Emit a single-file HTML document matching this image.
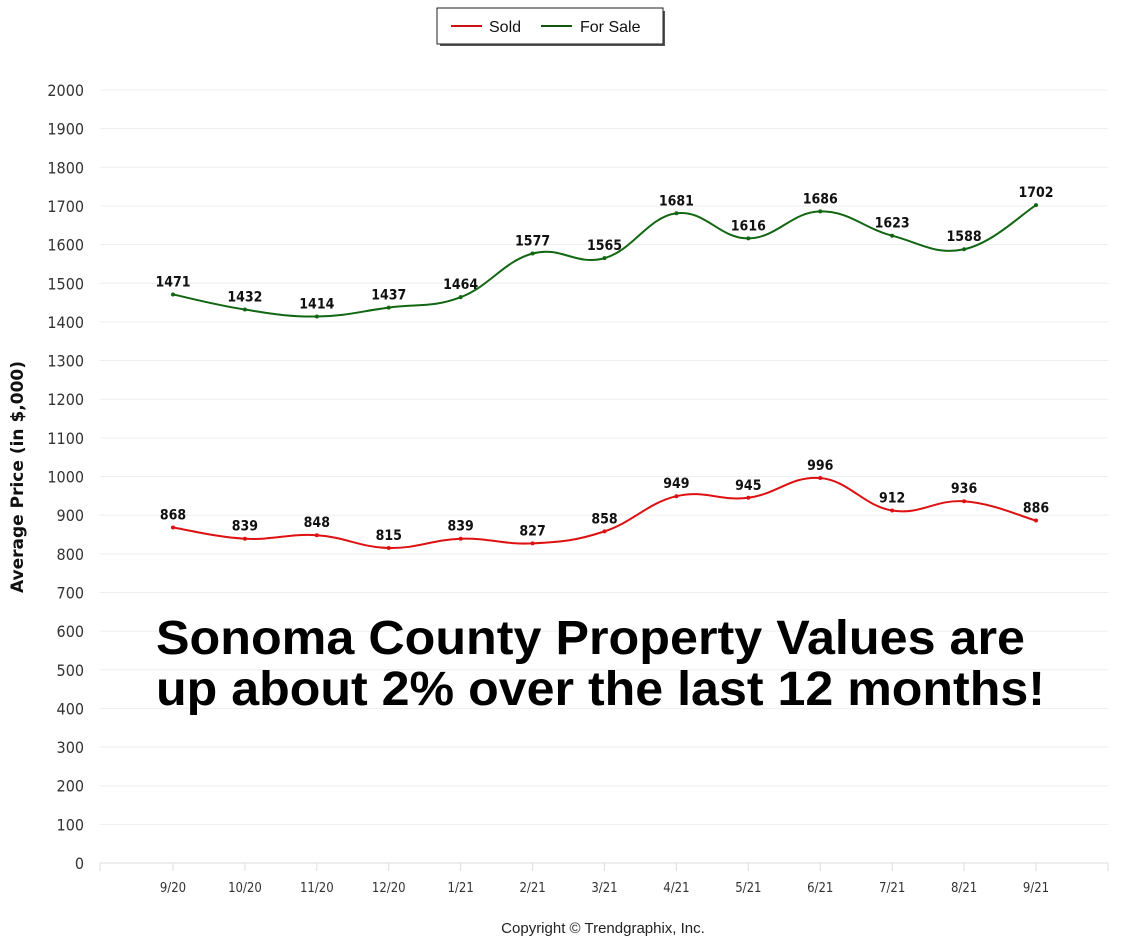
<!DOCTYPE html>
<html><head><meta charset="utf-8"><style>
body{margin:0;background:#fff;}
svg{display:block;font-family:"Liberation Sans",sans-serif;}
</style></head><body>
<svg id="c" width="1122" height="941">
<g>
<rect x="440" y="11" width="225" height="35" fill="#555"/>
<rect x="437" y="8" width="226" height="36" fill="#fff" stroke="#222" stroke-width="1"/>
<line x1="451" y1="26" x2="482" y2="26" stroke="#cc1111" stroke-width="2"/>
<text x="489" y="32" font-size="16" fill="#111">Sold</text>
<line x1="541" y1="26" x2="572" y2="26" stroke="#115511" stroke-width="2"/>
<text x="580" y="32" font-size="16" fill="#111">For Sale</text>
</g>
<text transform="translate(23,477) rotate(-90)" text-anchor="middle" font-size="17" font-weight="bold" font-family="DejaVu Sans, sans-serif" fill="#111">Average Price (in $,000)</text>
<g id="grid"></g><g id="marks"></g>
<text x="156" y="654" font-size="48" font-weight="bold" fill="#000" textLength="869" lengthAdjust="spacingAndGlyphs">Sonoma County Property Values are</text>
<text x="156" y="705" font-size="48" font-weight="bold" fill="#000" textLength="889" lengthAdjust="spacingAndGlyphs">up about 2% over the last 12 months!</text>
<text x="603" y="933" text-anchor="middle" font-size="15" fill="#222">Copyright © Trendgraphix, Inc.</text>
</svg>
<script>
const categories=["9/20","10/20","11/20","12/20","1/21","2/21","3/21","4/21","5/21","6/21","7/21","8/21","9/21"];
const sold=[868,839,848,815,839,827,858,949,945,996,912,936,886];
const forSale=[1471,1432,1414,1437,1464,1577,1565,1681,1616,1686,1623,1588,1702];
const yTicks=[0,100,200,300,400,500,600,700,800,900,1000,1100,1200,1300,1400,1500,1600,1700,1800,1900,2000];
const NS="http://www.w3.org/2000/svg";
const y=v=>863-v*(773/2000);
const x=i=>173+i*(863/12);
function mk(t,a,p){const e=document.createElementNS(NS,t);for(const k in a)e.setAttribute(k,a[k]);p.appendChild(e);return e;}
const grid=document.getElementById('grid'),marks=document.getElementById('marks');
yTicks.forEach(v=>{
const l=mk('line',{x1:100,x2:1108,y1:y(v),y2:y(v),stroke:v===0?'#ddd':'#eee','stroke-width':1},grid);


const t=mk('text',{x:84,y:y(v)+6,'text-anchor':'end','font-size':16,fill:'#333','font-family':'DejaVu Sans Condensed, DejaVu Sans, sans-serif'},grid);
t.textContent=v;


});
[100,1108].forEach(px=>{const l=mk('line',{x1:px,x2:px,y1:863,y2:871,stroke:'#ddd'},grid);

});
categories.forEach((c,i)=>{
const l=mk('line',{x1:x(i),x2:x(i),y1:863,y2:871,stroke:'#ddd'},grid);


const t=mk('text',{x:x(i),y:892,'text-anchor':'middle','font-size':13,fill:'#333','font-family':'DejaVu Sans Condensed, DejaVu Sans, sans-serif'},grid);
t.textContent=c;


});
function path(vals){const p=vals.map((v,i)=>[x(i),y(v)]);let d=`M${p[0][0]},${p[0][1]}`;
for(let i=0;i<p.length-1;i++){const p0=p[Math.max(i-1,0)],p1=p[i],p2=p[i+1],p3=p[Math.min(i+2,p.length-1)];const k=0.2;
d+=` C${p1[0]+(p2[0]-p0[0])*k},${p1[1]+(p2[1]-p0[1])*k} ${p2[0]-(p3[0]-p1[0])*k},${p2[1]-(p3[1]-p1[1])*k} ${p2[0]},${p2[1]}`;}return d;}
function series(vals,col,name){
const pa=mk('path',{d:path(vals),fill:'none',stroke:col,'stroke-width':2},marks);


vals.forEach((v,i)=>{
const c=mk('circle',{cx:x(i),cy:y(v),r:2,fill:col},marks);


const t=mk('text',{x:x(i),y:y(v)-8,'text-anchor':'middle','font-size':14,'font-weight':'bold',fill:'#111','font-family':'DejaVu Sans Condensed, DejaVu Sans, sans-serif'},marks);
t.textContent=v;


});}
series(forSale,'#116611','for-sale');
series(sold,'#dd1111','sold');
</script>
</body></html>
